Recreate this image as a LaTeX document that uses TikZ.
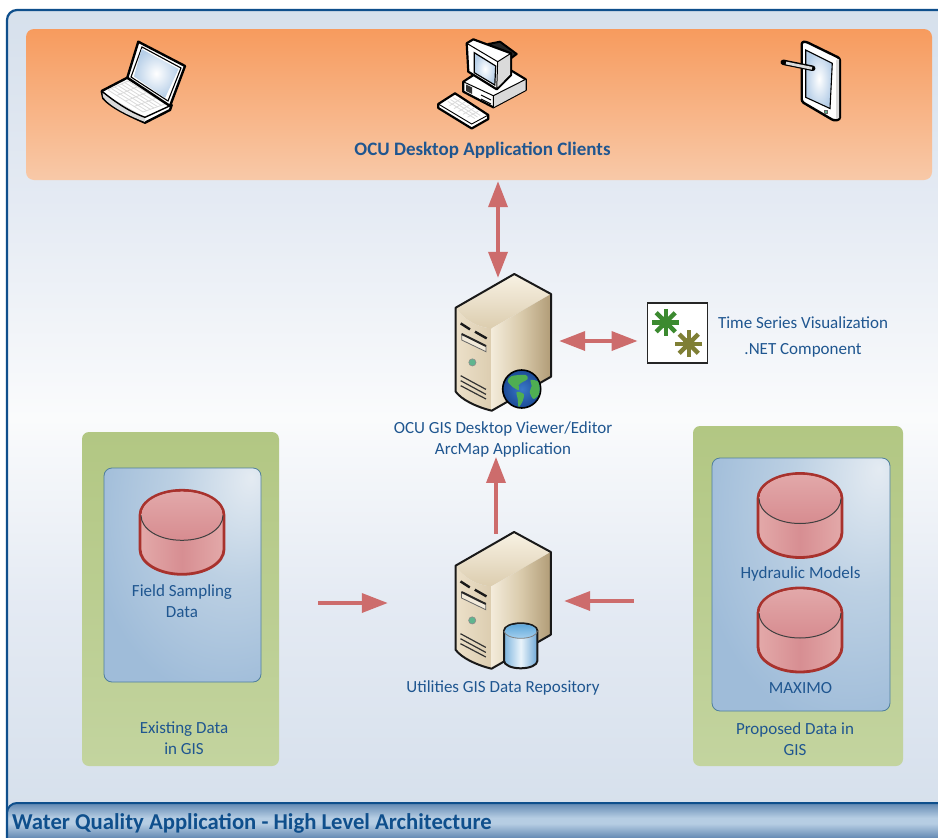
\documentclass[tikz,border=0pt]{standalone}
\usepackage{fontspec}
\setmainfont{Carlito}
\usetikzlibrary{arrows.meta,calc}
\definecolor{txtblue}{HTML}{1F5690}
\definecolor{framebl}{HTML}{0F4F8C}
\definecolor{arrowred}{HTML}{CD6C6C}
\definecolor{bgA}{HTML}{D6E0EC}
\definecolor{bgB}{HTML}{E4EAF3}
\definecolor{bgC}{HTML}{FAFBFC}
\definecolor{bluehi}{HTML}{E4EBF2}
\definecolor{bluemid}{HTML}{BCD0E3}
\definecolor{bluelo}{HTML}{9FBCD9}
\definecolor{titleD}{HTML}{6288B2}
\definecolor{titleL}{HTML}{B6CDE3}
\definecolor{orangeT}{HTML}{F79B5E}
\definecolor{orangeB}{HTML}{F8C9A8}
\definecolor{greenT}{HTML}{B2C783}
\definecolor{greenB}{HTML}{C3D49F}
\definecolor{blueEdge}{HTML}{4F7F9C}
\definecolor{cylEdge}{HTML}{A8322D}
\definecolor{cylSideO}{HTML}{E3A9A9}
\definecolor{cylSideM}{HTML}{D78E92}
\definecolor{cylTopT}{HTML}{E2A8A9}
\definecolor{cylTopB}{HTML}{D78C90}
\definecolor{twrTopT}{HTML}{F8F2E4}
\definecolor{twrTopB}{HTML}{DCCDAF}
\definecolor{twrFrL}{HTML}{ECE0C9}
\definecolor{twrFrR}{HTML}{DCCDB0}
\definecolor{twrSdL}{HTML}{F3EBDA}
\definecolor{twrSdR}{HTML}{B19C77}
\definecolor{twrSdM}{HTML}{D9CAAB}
\definecolor{twrBay}{HTML}{F2EADA}
\definecolor{ledG}{HTML}{5FB58F}
\definecolor{sparkG}{HTML}{3C8A30}
\definecolor{sparkO}{HTML}{7F7F35}
\definecolor{glassL}{HTML}{B7CFE8}
\definecolor{devG}{HTML}{DADADA}
\definecolor{dbL}{HTML}{7DB4DE}
\definecolor{dbR}{HTML}{6EA8D6}
\definecolor{dbM}{HTML}{EAF4FB}
\definecolor{dbT}{HTML}{5FA7DA}
\definecolor{dbB}{HTML}{A5D0EE}
\definecolor{seaI}{HTML}{3A78C8}
\definecolor{seaO}{HTML}{1B4A96}
\definecolor{landG}{HTML}{4FAE52}
\pgfdeclareverticalshading{pagebg}{100bp}{color(0bp)=(bgA); color(28bp)=(bgA); color(40bp)=(bgB); color(51bp)=(bgC); color(64bp)=(bgB); color(75bp)=(bgA); color(100bp)=(bgA)}
\pgfdeclareverticalshading{titlebg}{100bp}{color(0bp)=(titleD); color(44bp)=(titleD); color(57bp)=(titleL); color(62bp)=(titleL); color(75bp)=(titleD); color(100bp)=(titleD)}
\pgfdeclareradialshading{bluepanel}{\pgfpoint{22bp}{23bp}}{color(0bp)=(bluehi); color(20bp)=(bluemid); color(42bp)=(bluelo); color(100bp)=(bluelo)}
\tikzset{
  lab/.style={font=\fontsize{17}{21}\selectfont,text=txtblue,align=center,inner sep=0pt},
  clientpanel/.style={rectangle,rounded corners=8pt,top color=orangeT,bottom color=orangeB,draw=none},
  greenpanel/.style={rectangle,rounded corners=7pt,top color=greenT,bottom color=greenB,draw=none},
  bluepan/.style={rectangle,rounded corners=8pt,shading=bluepanel,draw=blueEdge,line width=.8pt},
  conn/.style={draw=arrowred,line width=3.6pt,>={Triangle[length=26pt,width=19pt]}},
  pics/dbcyl/.style={code={
    \draw[line width=2.8pt,draw=cylEdge,left color=cylSideO,right color=cylSideO,middle color=cylSideM]
      (-42,0) -- (-42,34) .. controls (-42,47.8) and (-23.2,59) .. (0,59) .. controls (23.2,59) and (42,47.8) .. (42,34) -- (42,0)
      .. controls (42,-13.8) and (23.2,-25) .. (0,-25) .. controls (-23.2,-25) and (-42,-13.8) .. (-42,0) -- cycle;
    \shade[top color=cylTopT,bottom color=cylTopB]
      (-40.5,0) .. controls (-40.5,13.8) and (-23.2,25) .. (0,25) .. controls (23.2,25) and (40.5,13.8) .. (40.5,0)
      .. controls (40.5,-13) and (23.2,-23.6) .. (0,-23.6) .. controls (-23.2,-23.6) and (-40.5,-13) .. (-40.5,0) -- cycle;
    \draw[line width=1pt,draw=black!75] (-41,0) .. controls (-41,13.8) and (-23.2,25) .. (0,25) .. controls (23.2,25) and (41,13.8) .. (41,0);
  }},
  pics/tower/.style={code={
    \shade[top color=twrTopT,bottom color=twrTopB] (0,0) -- (58.6,-33.7) -- (95.3,-13.7) -- (36,20.6) .. controls (22,20) and (8,12) .. (0,0) -- cycle;
    \shade[left color=twrFrL,right color=twrFrR] (0,0) .. controls (8,12) and (22,20) .. (36,20.6) -- (36,103) .. controls (20,99) and (6,92) .. (0,84) -- cycle;
    \shade[left color=twrSdL,right color=twrSdR,middle color=twrSdM] (36,20.6) -- (95.3,-13.7) -- (95.3,69) -- (36,103) -- cycle;
    \draw[line width=2pt,line join=round,draw=black!90] (0,0) -- (58.6,-33.7) -- (95.3,-13.7) -- (95.3,69) -- (36,103) .. controls (20,99) and (6,92) .. (0,84) -- cycle;
    \draw[line width=2.4pt,draw=black!90] (5,15.7) -- (14.3,21.7) (19.3,24) -- (31,30.7);
    \filldraw[fill=twrBay,draw=black!60,line width=.8pt] (6,26.3) -- (30.3,38.3) -- (30.3,44) -- (6,32.3) -- cycle;
    \draw[line width=2pt,draw=black!85] (6,26.3) -- (30.3,38.3);
    \filldraw[fill=ledG,draw=black!45,line width=.6pt] (16.7,54.7) circle[radius=3.6pt];
    \draw[line width=1.2pt,draw=black!80] (5,68) -- (30.3,81.7) (5,73) -- (30.3,86.7) (5,78) -- (30.3,91.3);
  }},
  pics/spark/.style={code={
    \foreach \a in {0,45,...,135}{
      \draw[line width=4.4pt,draw=#1] (\a:13.5pt) -- (\a+180:13.5pt);}
    \fill[#1] (0,0) circle[radius=6pt];
  }},
}
\begin{document}
\begin{tikzpicture}[x=1pt,y=-1pt]
\clip (0,0) rectangle (938,838);
\fill[white] (0,0) rectangle (938,838);
% frame and title bar
\draw[line width=2.2pt,draw=framebl,rounded corners=10pt,shading=pagebg] (7,10) rectangle (960,860);
\draw[line width=2pt,draw=framebl,rounded corners=10pt,shading=titlebg] (7,803) rectangle (960,860);
\node[anchor=west,inner sep=0pt,font=\fontsize{22.7}{26}\selectfont\bfseries,text=framebl] (title) at (12,823) {Water Quality Application - High Level Architecture};

% panels
\node[clientpanel,minimum width=906pt,minimum height=151pt] (clients) at (479,104.5) {};
\node[greenpanel,minimum width=197pt,minimum height=334pt] (greenL) at (180.5,599) {};
\node[greenpanel,minimum width=210pt,minimum height=340pt] (greenR) at (798,596) {};
\node[bluepan,minimum width=157pt,minimum height=214pt] (blueL) at (182.5,575) {};
\node[bluepan,minimum width=178pt,minimum height=253pt] (blueR) at (801,584.5) {};

% laptop
\node[minimum width=84pt,minimum height=81pt,inner sep=0pt] (laptop) at (143.5,82) {};
\filldraw[fill=white,draw=black,line width=2.4pt,line join=round] (101.7,91) -- (127.3,77.7) -- (171.7,105) -- (170,110) -- (145,122.7) .. controls (130,116) and (112,108) .. (103.3,98.3) -- cycle;
\fill[devG] (102.5,93) -- (145,117.3) -- (145,122) .. controls (130,116) and (112,108) .. (103.3,97.5) -- cycle;
\draw[line width=1.4pt] (101.7,91) .. controls (115,102) and (130,112) .. (145,117.3) -- (171.7,105);
\foreach \i in {0,1,2,3,4}{
  \draw[devG,line width=.8pt] ($(108,90)!\i/4!(143,112)$) -- ($(128,81)!\i/4!(165,104)$);
}
\foreach \i in {0,1,2,3,4,5,6}{
  \draw[devG,line width=.8pt] ($(108,90)!\i/6!(128,81)$) -- ($(143,112)!\i/6!(165,104)$);
}
\filldraw[fill=white,draw=black,line width=2.4pt,line join=round] (138.3,41.7) -- (185,66) -- (170,106) -- (127.3,77.7) -- cycle;
\draw[line width=1.1pt] (142,47) -- (181,68) -- (168,101) -- (131,77) -- cycle;
\shade[inner color=white,outer color=glassL] (141.5,49) -- (178.5,69) -- (165,98) -- (134,76.5) -- cycle;

% desktop
\node[minimum width=90pt,minimum height=90pt,inner sep=0pt] (desktop) at (482,84) {};
\filldraw[fill=white,draw=black,line width=2.2pt,line join=round] (463.3,81.7) -- (495,60.7) -- (525.7,79.3) -- (525.7,90) -- (493.3,107.3) -- (463.3,91.7) -- cycle;
\fill[devG] (493.3,95.7) -- (525.7,79.3) -- (525.7,90) -- (493.3,107.3) -- cycle;
\draw[line width=1pt] (463.3,81.7) -- (493.3,95.7) -- (525.7,79.3) (493.3,95.7) -- (493.3,107.3);
\fill[black!80] (466,84.5) -- (472,87.5) -- (472,94) -- (466,91) -- cycle;
\draw[line width=1pt] (481,95) -- (491,100) (481,99) -- (491,104);
\filldraw[fill=black!85,draw=black,line width=2pt,line join=round] (488.3,44) -- (500,41.7) -- (516.7,54) -- (511,58.3) -- cycle;
\filldraw[fill=white,draw=black,line width=2.2pt,line join=round] (466.7,43.3) -- (473.3,39.3) -- (511,53.3) -- (511,75) -- (496.7,89.3) -- (468.3,71.7) -- cycle;
\fill[devG] (498.5,62) -- (510,54.5) -- (510,74.5) -- (497.5,87.5) -- cycle;
\draw[line width=1pt] (466.7,43.3) -- (497.7,61.7) -- (496.7,89.3) (497.7,61.7) -- (511,53.3);
\draw[draw=black,line width=1.2pt,inner color=white,outer color=glassL] (474.3,52.7) -- (495.7,66) -- (494.8,85) -- (474.3,72.7) -- cycle;
\filldraw[fill=white,draw=black,line width=2.2pt,line join=round] (438.3,104) -- (455,93.3) -- (488.3,115) -- (488.3,119) -- (471.7,128.5) -- (438.3,108) -- cycle;
\draw[line width=.9pt] (438.3,104) -- (471.7,124) -- (488.3,115);
\foreach \i in {1,2,3,4,5}{
  \draw[devG,line width=.8pt] ($(445,103)!\i/6!(472,120)$) -- ($(456,96)!\i/6!(483,114)$);
}
\foreach \i in {1,2,3}{
  \draw[devG,line width=.8pt] ($(445,103)!\i/4!(456,96)$) -- ($(472,120)!\i/4!(483,114)$);
}

% tablet
\node[minimum width=58pt,minimum height=80pt,inner sep=0pt] (tablet) at (811,81) {};
\filldraw[fill=white,draw=black,line width=2.4pt,line join=round,rounded corners=2.5pt] (801.7,41.7) -- (806,41.7) -- (840,58.3) -- (840,119.5) -- (834,120.7) -- (801.7,101.7) -- cycle;
\fill[devG] (836,60) -- (839,59) -- (839,118) -- (836,119) -- cycle;
\draw[line width=1.1pt,inner color=white,outer color=glassL] (805.7,50) -- (832.3,63.3) -- (830,108.5) -- (805.7,97.3) -- cycle;
\draw[line width=5.5pt,line cap=round] (783.3,62.3) -- (812.7,68.3);
\draw[line width=2.8pt,draw=devG] (786,63) -- (812,68.3);
\filldraw[fill=ledG,draw=black!60,line width=.5pt] (824,110.5) rectangle (827,113.5);

% time-series box
\node[draw=black!85,fill=white,line width=1.5pt,minimum width=60pt,minimum height=60pt,inner sep=0pt] (gears) at (677.3,333) {};
\pic at (665.7,322.3) {spark=sparkG};
\pic at (688.7,343.7) {spark=sparkO};

% servers
\node[minimum width=95.5pt,minimum height=137pt,inner sep=0pt] (srvA) at (503.25,342.5) {};
\pic at (455.7,307.7) {tower};
\begin{scope}
\draw[draw=black,line width=1.6pt,inner color=seaI,outer color=seaO] (521.7,389) circle[radius=19pt];
\clip (521.7,389) circle[radius=18pt];
\fill[landG] plot[smooth cycle] coordinates {(507.7,381) (511.7,376) (525.7,375) (527.7,379) (522.7,382) (518.7,385) (518.7,390) (512.7,387)};
\fill[landG] plot[smooth cycle] coordinates {(530.7,380) (538.7,382) (540.7,392) (533.7,399) (529.7,392) (531.7,386)};
\fill[landG] plot[smooth cycle] coordinates {(516.7,392) (523.7,394) (522.7,401) (518.7,407) (517.7,399)};
\end{scope}

\node[minimum width=95.5pt,minimum height=137pt,inner sep=0pt] (srvB) at (503.25,601) {};
\pic at (455.5,565.7) {tower};
\draw[line width=2pt,draw=black!90,left color=dbL,right color=dbR,middle color=dbM]
  (504,630.8) -- (504,660.8) .. controls (504,665) and (511.5,668.3) .. (520.7,668.3) .. controls (530,668.3) and (537.4,665) .. (537.4,660.8) -- (537.4,630.8)
  .. controls (537.4,626.6) and (530,623.3) .. (520.7,623.3) .. controls (511.5,623.3) and (504,626.6) .. (504,630.8) -- cycle;
\shade[top color=dbT,bottom color=dbB] (505,630.8) .. controls (505,635) and (511.5,638.3) .. (520.7,638.3) .. controls (530,638.3) and (536.4,635) .. (536.4,630.8) .. controls (536.4,626.6) and (530,624.3) .. (520.7,624.3) .. controls (511.5,624.3) and (505,626.6) .. (505,630.8) -- cycle;
\draw[line width=.8pt,draw=black!50] (504,630.8) .. controls (504,635) and (511.5,638.3) .. (520.7,638.3) .. controls (530,638.3) and (537.4,635) .. (537.4,630.8);

% cylinders
\pic (cylF) at (182,515.3) {dbcyl};
\pic (cylH) at (800,498.5) {dbcyl};
\pic (cylM) at (800,613) {dbcyl};

% labels
\node[lab,font=\fontsize{19}{23}\selectfont\bfseries] (clientsLab) at (482.5,150) {OCU Desktop Application Clients};
\node[lab] (gearsLab) at (803,337) {Time Series Visualization\\[5pt].NET Component};
\node[lab] (srvALab) at (503,439) {OCU GIS Desktop Viewer/Editor\\ArcMap Application};
\node[lab] (srvBLab) at (503,687.5) {Utilities GIS Data Repository};
\node[lab] (fieldLab) at (182,601) {Field Sampling\\Data};
\node[lab] (existLab) at (184,738) {Existing Data\\in GIS};
\node[lab] (hydLab) at (800.5,574) {Hydraulic Models};
\node[lab] (maxLab) at (800.5,688) {MAXIMO};
\node[lab] (propLab) at (795,739.5) {Proposed Data in\\GIS};

% connectors
\draw[conn,<->] ([xshift=19pt,yshift=-1pt]clients.south) -- ([xshift=-5.25pt,yshift=-4pt]srvA.north);
\coordinate (gearsIn) at ([yshift=1.5pt]srvA.east);
\draw[conn,<->,shorten <=8pt,shorten >=9pt] (gearsIn) -- (gearsIn -| gears.west);
\draw[conn,->] ([xshift=-7.25pt,yshift=-1.3pt]srvB.north) -- ([xshift=-7pt]srvALab.south);
\coordinate (srvBin) at ([yshift=-2pt]srvB.west);
\draw[conn,->,shorten <=39pt,shorten >=67.5pt] (greenL.east |- srvBin) -- (srvBin);
\draw[conn,->,shorten <=59pt,shorten >=13pt] (greenR.west |- srvB.east) -- (srvB.east);
\end{tikzpicture}
\end{document}
